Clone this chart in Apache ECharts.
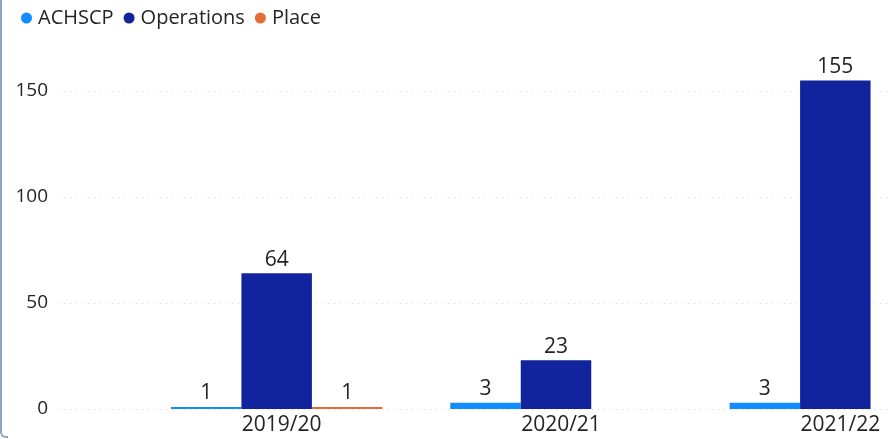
<!DOCTYPE html>
<html>
<head>
<meta charset="utf-8">
<script src="https://cdn.jsdelivr.net/npm/echarts@6/dist/echarts.min.js"></script>
<style>
  html, body { margin: 0; padding: 0; background: #fff; }
  #chart { width: 889px; height: 439px; position: relative; }
  #edge {
    position: absolute; left: 0; top: -10px; width: 6px; height: 446px;
    border-left: 2px solid #8ea6c6; border-bottom: 2px solid #8ea6c6;
    border-bottom-left-radius: 6px; pointer-events: none; z-index: 5;
  }
</style>
</head>
<body>
<div id="chart"></div>
<div id="edge"></div>
<script>
// data
const categories = ['2019/20', '2020/21', '2021/22']
const achscp = [1, 3, 3]
const operations = [64, 23, 155]
const place = [1, null, null]
const yTicks = { min: 0, max: 150, interval: 50 }

const fontFamily = "'Segoe UI', 'Open Sans', sans-serif"
const textColor = '#252423'
const colors = ['#118DFF', '#12239E', '#E66C37']

const chart = echarts.init(document.getElementById('chart'))

const barLabel = {
  show: true,
  position: 'top',
  distance: 3,
  fontSize: 21,
  fontFamily: fontFamily,
  color: textColor
}

chart.setOption({
  animation: false,
  color: colors,
  legend: {
    left: 16,
    top: 3,
    icon: 'circle',
    itemWidth: 11,
    itemHeight: 11,
    itemGap: 10,
    textStyle: { fontSize: 20, fontFamily: fontFamily, color: textColor, padding: [0, 0, 0, 1] },
    data: ['ACHSCP', 'Operations', 'Place']
  },
  grid: [
    // bars; the plot runs past the right edge like in the reference
    { left: 137, top: 91, bottom: 30, width: 838, outerBoundsMode: 'none', containLabel: false },
    // gridlines and value labels
    { left: 58, right: 0, top: 91, bottom: 30, outerBoundsMode: 'none', containLabel: false }
  ],
  xAxis: [
    {
      gridIndex: 0,
      type: 'category',
      data: categories,
      axisLine: { show: false },
      axisTick: { show: false },
      axisLabel: {
        fontSize: 21,
        fontFamily: fontFamily,
        color: textColor,
        margin: 6,
        padding: [0, 0, 0, 10]
      }
    },
    { gridIndex: 1, type: 'value', show: false }
  ],
  yAxis: [
    { gridIndex: 0, type: 'value', min: yTicks.min, max: yTicks.max, interval: yTicks.interval, show: false },
    {
      gridIndex: 1,
      type: 'value',
      min: yTicks.min,
      max: yTicks.max,
      interval: yTicks.interval,
      axisLine: { show: false },
      axisTick: { show: false },
      axisLabel: { fontSize: 19, fontFamily: fontFamily, color: textColor, margin: 10 },
      splitLine: { lineStyle: { color: '#d6d6d6', type: [1, 5], width: 1 } }
    }
  ],
  series: [
    { name: 'ACHSCP', type: 'bar', data: achscp, barGap: '0%', barCategoryGap: '24.3%', clip: false, label: barLabel },
    { name: 'Operations', type: 'bar', data: operations, barGap: '0%', barCategoryGap: '24.3%', clip: false, label: barLabel },
    { name: 'Place', type: 'bar', data: place, barGap: '0%', barCategoryGap: '24.3%', clip: false, label: barLabel }
  ]
})
</script>
</body>
</html>
